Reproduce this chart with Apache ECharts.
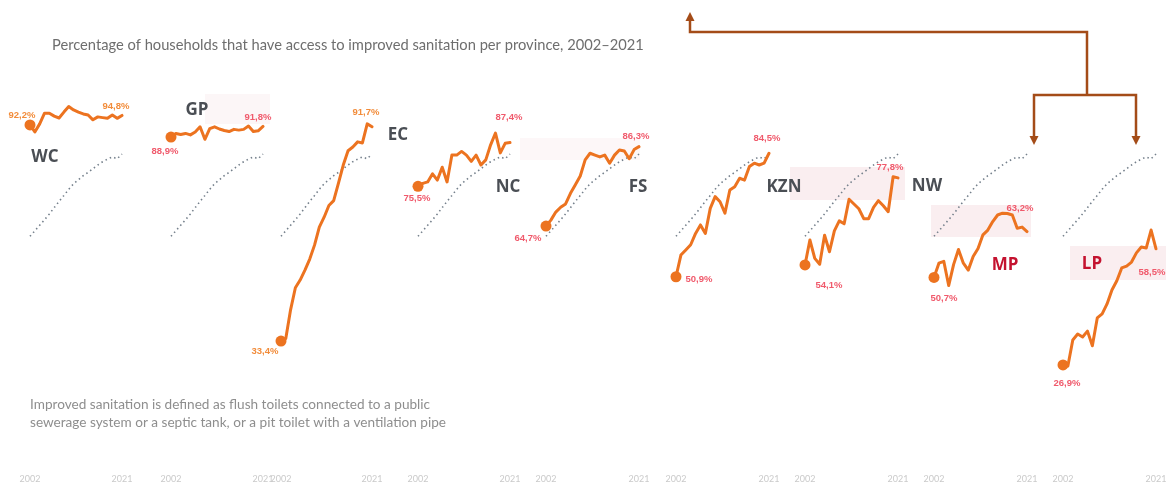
<!DOCTYPE html>
<html>
<head>
<meta charset="utf-8">
<script src="https://cdn.jsdelivr.net/npm/echarts@6/dist/echarts.min.js"></script>
<style>
html,body{margin:0;padding:0;background:#fff;}
#chart{width:1172px;height:491px;}
</style>
</head>
<body>
<div id="chart"></div>
<script>
// ---- data ----
const years = ['2002','2003','2004','2005','2006','2007','2008','2009','2010','2011','2012','2013','2014','2015','2016','2017','2018','2019','2020','2021'];
const provinces = ['WC','GP','EC','NC','FS','KZN','NW','MP','LP'];
const wc  = [92.2, 90.3, 92.5, 95.4, 95.4, 94.6, 94.1, 95.7, 97.2, 96.3, 95.7, 95.2, 94.9, 93.6, 94.4, 94.2, 94.0, 94.9, 94.0, 94.8];
const gp  = [88.9, 89.9, 89.6, 89.9, 89.5, 90.3, 91.7, 88.3, 91.2, 91.7, 91.1, 90.7, 90.4, 91.0, 90.8, 91.0, 91.9, 90.4, 90.6, 91.8];
const ec  = [33.4, 34.1, 41.9, 47.9, 50.0, 52.7, 55.7, 59.5, 64.4, 67.1, 70.3, 71.6, 76.4, 81.3, 85.2, 86.2, 87.6, 87.3, 92.5, 91.7];
const nc  = [75.5, 76.3, 76.7, 78.9, 77.2, 80.7, 76.7, 84.0, 84.0, 85.0, 84.0, 82.3, 84.0, 81.3, 82.7, 86.8, 90.0, 84.6, 87.2, 87.4];
const fs  = [64.7, 66.3, 68.5, 69.8, 70.7, 73.6, 75.9, 78.3, 82.7, 84.5, 84.0, 83.5, 84.0, 81.8, 84.0, 85.4, 85.1, 83.0, 85.5, 86.3];
const kzn = [50.9, 56.8, 58.2, 59.6, 62.7, 65.0, 62.7, 69.5, 72.7, 71.3, 68.2, 74.5, 75.4, 77.7, 77.2, 80.9, 81.8, 81.3, 81.8, 84.5];
const nw  = [54.1, 60.9, 55.9, 54.3, 62.2, 57.7, 63.4, 66.1, 65.3, 72.0, 70.7, 69.4, 66.7, 66.7, 69.8, 71.6, 70.2, 68.6, 78.1, 77.8];
const mp  = [50.7, 54.6, 55.1, 48.5, 54.2, 58.3, 54.6, 52.7, 56.4, 58.6, 62.3, 63.6, 65.9, 67.7, 68.2, 68.1, 67.7, 64.1, 64.4, 63.2];
const lp  = [26.9, 26.6, 33.7, 35.3, 34.5, 36.1, 32.1, 39.7, 40.8, 43.5, 47.3, 49.8, 53.3, 53.8, 54.9, 57.4, 59.0, 58.7, 63.6, 58.5];
const national = [61.9, 63.4, 64.9, 66.4, 68.0, 69.7, 71.4, 73.0, 74.7, 76.2, 77.3, 78.4, 79.3, 80.3, 81.3, 82.2, 82.9, 83.5, 83.0, 84.3];
const provinceValues = [wc, gp, ec, nc, fs, kzn, nw, mp, lp];

// ---- layout / style ----
const ORANGE = '#ec7320';
const PINK = '#f05a6c';
const LABEL_ORANGE = '#f28c3a';
const panelLeft  = [30, 171, 281, 418, 546, 676, 805, 934, 1063];
const panelWidth = [92, 92, 91, 92, 93, 93, 93, 93, 93];
const labelCfg = [
  {c: LABEL_ORANGE, s: [-8,-10], e: [-6,-9]},
  {c: PINK, s: [-6,14], e: [-5,-9]},
  {c: LABEL_ORANGE, s: [-16,10], e: [-6,-14]},
  {c: PINK, s: [-1,12], e: [-1,-25]},
  {c: PINK, s: [-18,12], e: [-3,-10]},
  {c: PINK, s: [23,3], e: [-2,-15]},
  {c: PINK, s: [24,20], e: [-8,-11]},
  {c: PINK, s: [10,21], e: [-7,-23]},
  {c: PINK, s: [4,18], e: [-4,24]}
];
const nameCfg = [
  {x: 45, y: 157, c: '#4a4e54'},
  {x: 197, y: 110, c: '#4a4e54'},
  {x: 398, y: 135, c: '#4a4e54'},
  {x: 508, y: 187, c: '#4a4e54'},
  {x: 638, y: 187, c: '#4a4e54'},
  {x: 784, y: 187, c: '#4a4e54'},
  {x: 927, y: 186, c: '#4a4e54'},
  {x: 1005, y: 265, c: '#c4122f'},
  {x: 1092, y: 264, c: '#c4122f'}
];

const fmt = v => v.toFixed(1).replace('.', ',') + '%';

const grids = [], xAxes = [], yAxes = [], series = [];
provinces.forEach((p, k) => {
  grids.push({left: panelLeft[k], top: 96.3, width: panelWidth[k], height: 294});
  xAxes.push({
    type: 'category', gridIndex: k, data: years, boundaryGap: false,
    axisLine: {show: false}, axisTick: {show: false}, splitLine: {show: false},
    axisLabel: {
      interval: (i) => i === 0 || i === years.length - 1,
      margin: 84, color: '#cacaca', fontSize: 9, fontFamily: 'Lato'
    }
  });
  yAxes.push({type: 'value', gridIndex: k, min: 20, max: 100, show: false});
  series.push({
    type: 'line', xAxisIndex: k, yAxisIndex: k, data: national,
    symbol: 'none', silent: true, z: 1,
    lineStyle: {color: '#75808c', width: 1.6, type: [1.5, 3.2]}
  });
  const vals = provinceValues[k];
  const cfg = labelCfg[k];
  const lab = (off) => ({
    show: true, position: 'inside', offset: off, formatter: (pr) => fmt(pr.value),
    color: cfg.c, fontSize: 9.5, fontWeight: 'bold', fontFamily: 'Liberation Sans'
  });
  const data = vals.map((v, i) => {
    if (i === 0) return {value: v, symbolSize: 11, label: lab(cfg.s)};
    if (i === vals.length - 1) return {value: v, label: lab(cfg.e)};
    return v;
  });
  series.push({
    type: 'line', name: p, xAxisIndex: k, yAxisIndex: k, data: data,
    symbol: 'circle', symbolSize: 0, showSymbol: true, silent: true, z: 3,
    itemStyle: {color: ORANGE},
    lineStyle: {color: ORANGE, width: 3, join: 'round', cap: 'round'},
    label: {show: false}
  });
});

const BROWN = '#a44c18';
const graphics = [
  // faint pink highlight bands
  {type: 'rect', z: 0, shape: {x: 790, y: 167, width: 115, height: 33}, style: {fill: '#f9eaec', opacity: 0.8}},
  {type: 'rect', z: 0, shape: {x: 931, y: 205, width: 100, height: 32}, style: {fill: '#f9eaec', opacity: 0.8}},
  {type: 'rect', z: 0, shape: {x: 1070, y: 246, width: 96, height: 34}, style: {fill: '#f9eaec', opacity: 0.8}},
  {type: 'rect', z: 0, shape: {x: 205, y: 94, width: 65, height: 30}, style: {fill: '#fbf2f3', opacity: 0.7}},
  {type: 'rect', z: 0, shape: {x: 520, y: 138, width: 120, height: 22}, style: {fill: '#fbf2f3', opacity: 0.6}},
  // province names
  ...provinces.map((p, k) => ({
    type: 'text', z: 10, x: nameCfg[k].x, y: nameCfg[k].y,
    style: {text: p, fill: nameCfg[k].c, font: 'bold 17px "Open Sans"', align: 'center', verticalAlign: 'middle'}
  })),
  // footnote
  {type: 'text', z: 10, x: 30, y: 396, style: {
    text: 'Improved sanitation is defined as flush toilets connected to a public\nsewerage system or a septic tank, or a pit toilet with a ventilation pipe',
    fill: '#8e8e8e', font: '13.6px Lato', lineHeight: 18}},
  // arrows
  {type: 'polyline', z: 10, shape: {points: [[690, 19], [690, 32], [1087, 32], [1087, 95]]}, style: {stroke: BROWN, lineWidth: 2.5, fill: null}},
  {type: 'polyline', z: 10, shape: {points: [[1034, 138], [1034, 95], [1136, 95], [1136, 138]]}, style: {stroke: BROWN, lineWidth: 2.5, fill: null}},
  {type: 'polygon', z: 10, shape: {points: [[685.5, 21], [694.5, 21], [690, 12]]}, style: {fill: BROWN}},
  {type: 'polygon', z: 10, shape: {points: [[1029.5, 136], [1038.5, 136], [1034, 145]]}, style: {fill: BROWN}},
  {type: 'polygon', z: 10, shape: {points: [[1131.5, 136], [1140.5, 136], [1136, 145]]}, style: {fill: BROWN}}
];

const chart = echarts.init(document.getElementById('chart'), null, {renderer: 'canvas'});
chart.setOption({
  animation: false,
  backgroundColor: '#ffffff',
  title: {
    text: 'Percentage of households that have access to improved sanitation per province, 2002\u20132021',
    left: 47, top: 33,
    textStyle: {fontSize: 14.7, fontWeight: 'normal', color: '#6e6e6e', fontFamily: 'Lato'}
  },
  grid: grids, xAxis: xAxes, yAxis: yAxes, series: series,
  graphic: graphics
});
</script>
</body>
</html>
